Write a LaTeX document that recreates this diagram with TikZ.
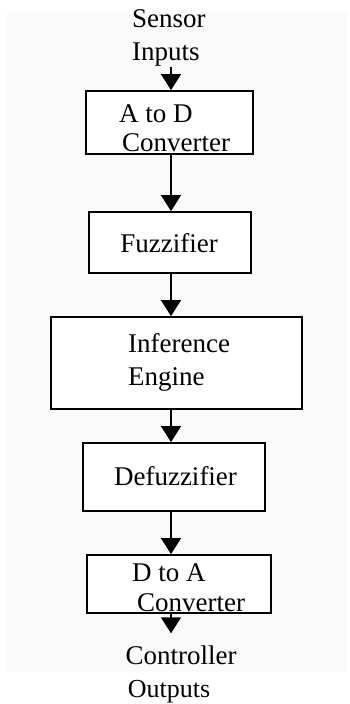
\documentclass[tikz,border=0pt]{standalone}
\usepackage{fontspec}
\setmainfont{Liberation Serif}
\usetikzlibrary{arrows.meta}
\begin{document}
\begin{tikzpicture}[x=1pt,y=-1pt,
  block/.style={draw=black, line width=1.8pt, fill=white, rectangle, inner sep=0pt},
  lbl/.style={font=\fontsize{27}{30}\selectfont, inner sep=0pt, align=left},
  flow/.style={line width=1.5pt, -{Triangle[width=20pt,length=16pt]}}]
\useasboundingbox (0,0) rectangle (350,704);
% faint paper tone behind the chart
\fill[black!2] (7,12) rectangle (347,672);

% blocks of the controller chain
\node[block, minimum width=167pt, minimum height=63pt] (ad) at (169.5,122.5) {};
\node[block, minimum width=162pt, minimum height=61pt] (fz) at (170,242.5) {};
\node[block, minimum width=251pt, minimum height=92pt] (ie) at (176.5,363) {};
\node[block, minimum width=182pt, minimum height=68pt] (df) at (174,477) {};
\node[block, minimum width=184pt, minimum height=58pt] (da) at (179,584) {};

% block captions
\node[lbl, anchor=west, font=\fontsize{27}{29}\selectfont] (adtxt) at (119,128.5) {A to D\\\hspace*{3pt}Converter};
\node[lbl] (fztxt) at (169,243) {Fuzzifier};
\node[lbl, anchor=west, font=\fontsize{27}{33}\selectfont] (ietxt) at (128,362.5) {Inference\\Engine};
\node[lbl] (dftxt) at (175.5,476) {Defuzzifier};
\node[lbl, anchor=west] (datxt) at (132,588) {D to A\\\hspace*{5pt}Converter};

% input and output labels
\node[lbl, anchor=west, font=\fontsize{27}{33}\selectfont] (inp) at (132,38) {Sensor\\Inputs};
\node[lbl] (ctl) at (181,655) {Controller};
\node[lbl, font=\fontsize{26}{30}\selectfont] (outp) at (169,692) {Outputs};

% signal path
\coordinate (spine) at (171,0);
\draw[flow] (inp.south -| spine) -- (ad.north -| spine);
\draw[flow] (ad.south -| spine) -- (fz.north -| spine);
\draw[flow] (fz.south -| spine) -- (ie.north -| spine);
\draw[flow] (ie.south -| spine) -- (df.north -| spine);
\draw[flow] (df.south -| spine) -- (da.north -| spine);
\draw[flow, shorten >=12pt] (da.south -| spine) -- (ctl.north -| spine);
\end{tikzpicture}
\end{document}
